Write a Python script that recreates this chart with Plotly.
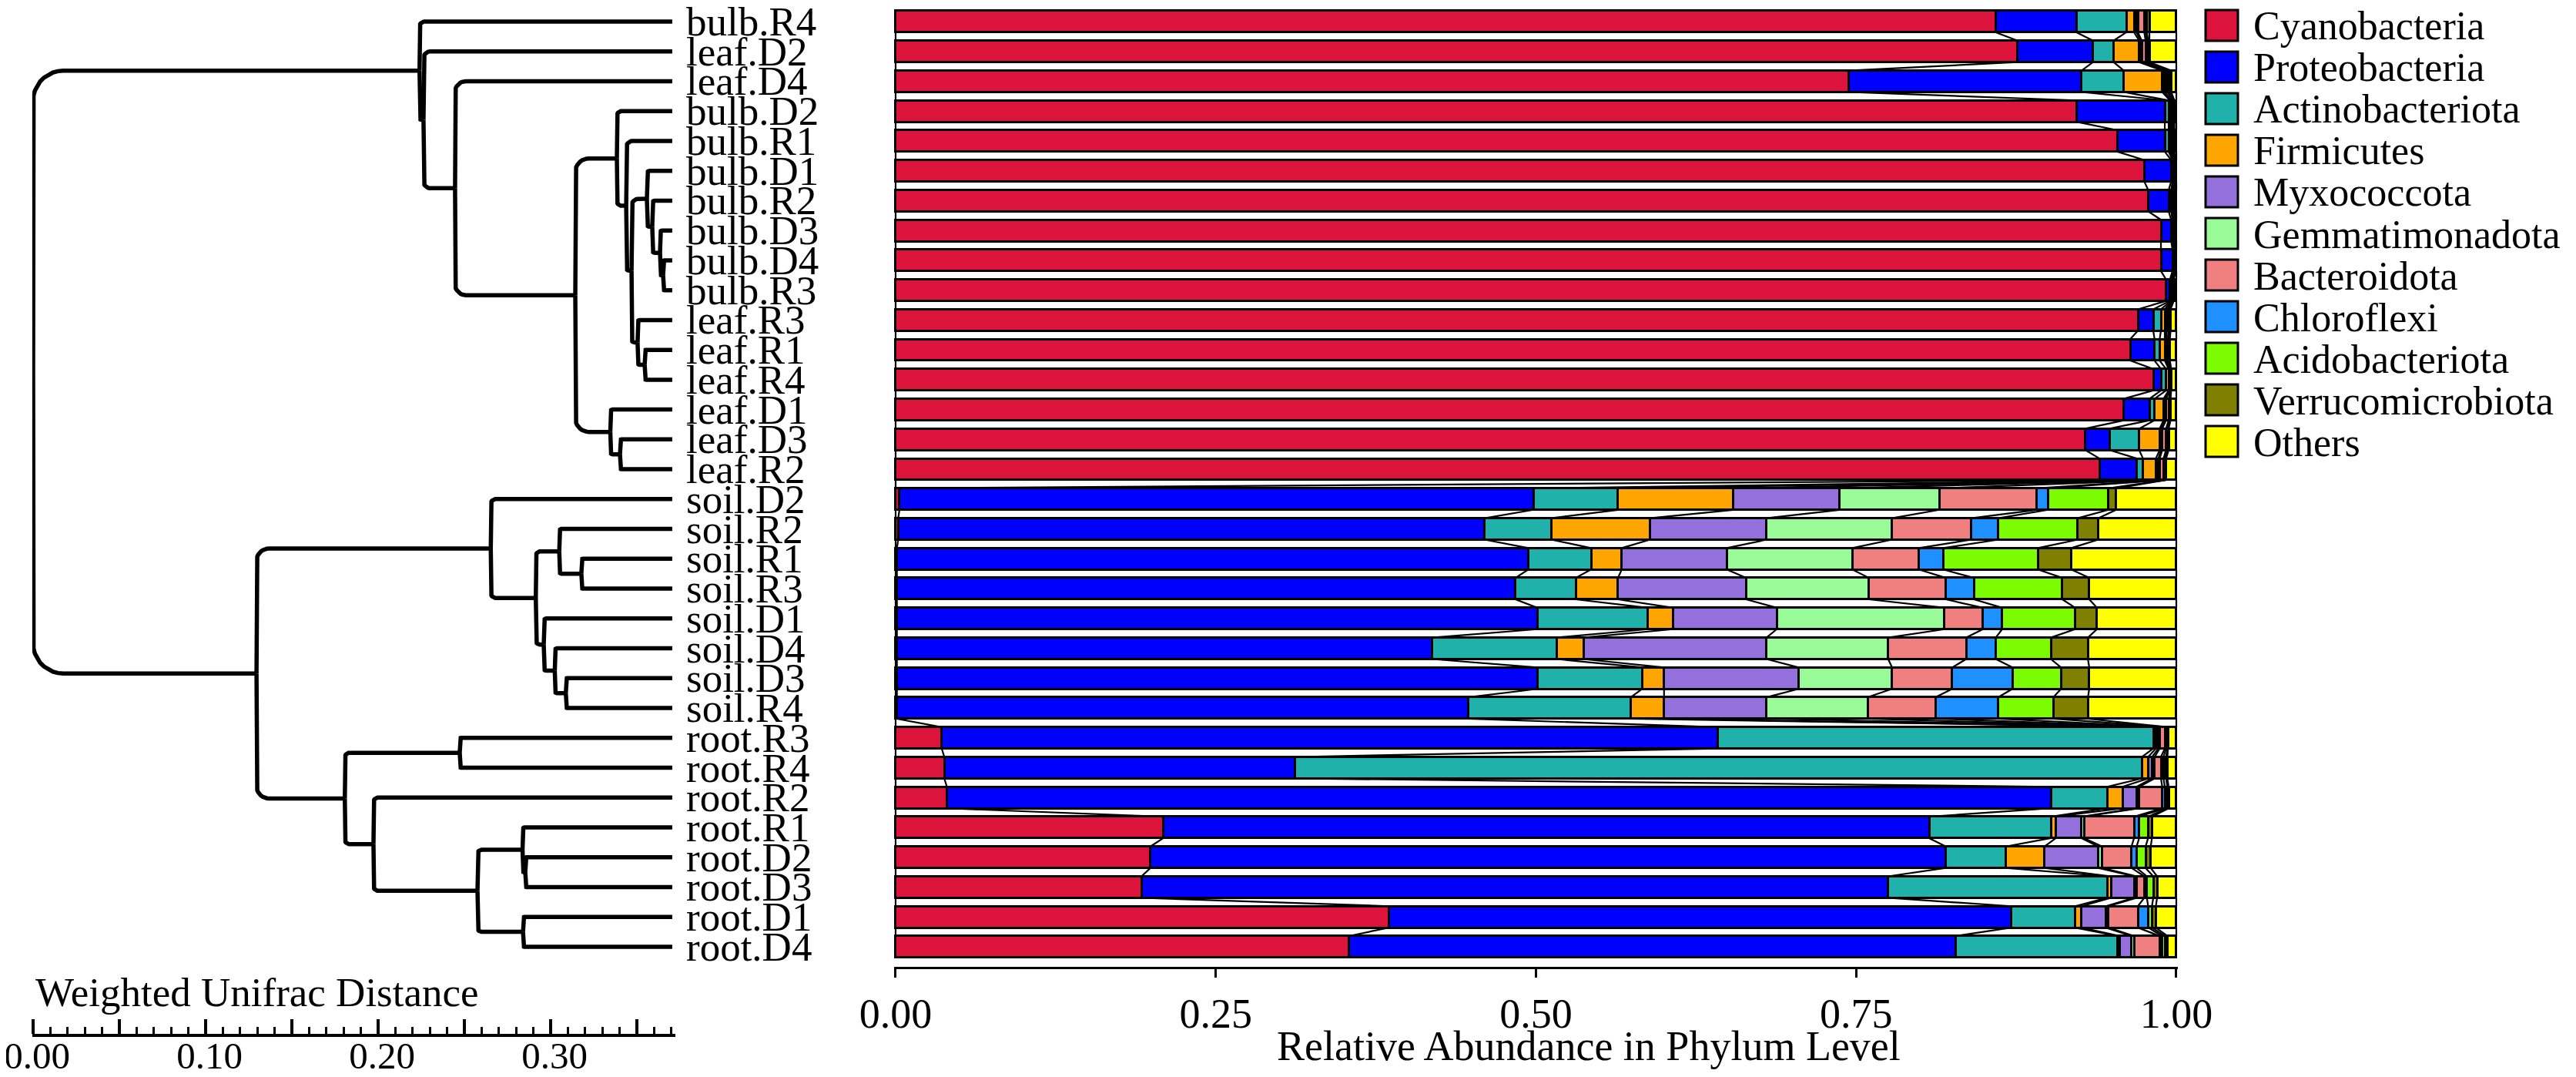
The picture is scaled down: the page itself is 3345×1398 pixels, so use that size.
import math
import numpy as np
import plotly.graph_objects as go

W, H = 3345, 1398
OFF = 8.0  # page margin of the browser body
FONT = "Liberation Serif, Times New Roman, serif"

# ---------------- data ----------------
samples = ["bulb.R4", "leaf.D2", "leaf.D4", "bulb.D2", "bulb.R1", "bulb.D1", "bulb.R2", "bulb.D3",
           "bulb.D4", "bulb.R3", "leaf.R3", "leaf.R1", "leaf.R4", "leaf.D1", "leaf.D3", "leaf.R2",
           "soil.D2", "soil.R2", "soil.R1", "soil.R3", "soil.D1", "soil.D4", "soil.D3", "soil.R4",
           "root.R3", "root.R4", "root.R2", "root.R1", "root.D2", "root.D3", "root.D1", "root.D4"]

phyla = ["Cyanobacteria", "Proteobacteria", "Actinobacteriota", "Firmicutes", "Myxococcota",
         "Gemmatimonadota", "Bacteroidota", "Chloroflexi", "Acidobacteriota", "Verrucomicrobiota", "Others"]
colors = ["#DC143C", "#0000FF", "#20B2AA", "#FFA500", "#9370DB", "#98FB98", "#F08080",
          "#1E90FF", "#7CFC00", "#808000", "#FFFF00"]

cyanobacteria = [0.859, 0.876, 0.744, 0.922, 0.954, 0.975, 0.978, 0.988, 0.988, 0.992, 0.970, 0.964, 0.982, 0.959, 0.929, 0.940,
                 0.003, 0.002, 0.001, 0.001, 0.001, 0.001, 0.001, 0.001,
                 0.036, 0.038, 0.040, 0.209, 0.199, 0.192, 0.385, 0.354]
proteobacteria = [0.063, 0.059, 0.182, 0.069, 0.037, 0.021, 0.016, 0.008, 0.009, 0.003, 0.012, 0.019, 0.006, 0.020, 0.019, 0.029,
                  0.495, 0.458, 0.493, 0.483, 0.500, 0.418, 0.500, 0.446,
                  0.606, 0.274, 0.862, 0.598, 0.621, 0.583, 0.486, 0.474]
actinobacteriota = [0.039, 0.016, 0.033, 0.003, 0.003, 0.001, 0.002, 0.001, 0.0008, 0.001, 0.006, 0.004, 0.004, 0.004, 0.023, 0.005,
                    0.066, 0.052, 0.049, 0.047, 0.086, 0.097, 0.082, 0.127,
                    0.340, 0.661, 0.044, 0.095, 0.047, 0.171, 0.050, 0.126]
firmicutes = [0.006, 0.020, 0.030, 0.001, 0.001, 0.0005, 0.001, 0.0005, 0.0004, 0.0005, 0.003, 0.004, 0.002, 0.007, 0.016, 0.010,
              0.090, 0.077, 0.024, 0.033, 0.020, 0.021, 0.017, 0.026,
              0.002, 0.005, 0.012, 0.004, 0.030, 0.003, 0.005, 0.002]
myxococcota = [0.002, 0.001, 0.001, 0.0005, 0.0005, 0.0003, 0.0003, 0.0003, 0.0002, 0.0002, 0.0005, 0.0005, 0.0003, 0.001, 0.001, 0.002,
               0.083, 0.091, 0.082, 0.100, 0.081, 0.143, 0.105, 0.080,
               0.002, 0.003, 0.011, 0.020, 0.042, 0.018, 0.019, 0.009]
gemmatimonadota = [0.001, 0.001, 0.001, 0.0005, 0.0005, 0.0002, 0.0002, 0.0002, 0.0002, 0.0002, 0.001, 0.001, 0.0005, 0.001, 0.001, 0.001,
                   0.078, 0.098, 0.098, 0.096, 0.131, 0.095, 0.073, 0.079,
                   0.001, 0.002, 0.002, 0.002, 0.003, 0.002, 0.002, 0.002]
bacteroidota = [0.005, 0.003, 0.002, 0.001, 0.001, 0.0005, 0.0005, 0.0005, 0.0004, 0.0005, 0.0015, 0.001, 0.0005, 0.002, 0.003, 0.003,
                0.076, 0.062, 0.052, 0.060, 0.030, 0.061, 0.047, 0.053,
                0.004, 0.005, 0.018, 0.039, 0.023, 0.006, 0.023, 0.020]
chloroflexi = [0.001, 0.001, 0.001, 0.0005, 0.0005, 0.0002, 0.0002, 0.0002, 0.0001, 0.0002, 0.0005, 0.0005, 0.0002, 0.0005, 0.001, 0.001,
               0.009, 0.021, 0.019, 0.022, 0.015, 0.023, 0.047, 0.049,
               0.001, 0.002, 0.002, 0.004, 0.004, 0.002, 0.008, 0.002]
acidobacteriota = [0.001, 0.001, 0.001, 0.0005, 0.0005, 0.0002, 0.0002, 0.0002, 0.0001, 0.0002, 0.0005, 0.0005, 0.0003, 0.0005, 0.0005, 0.0005,
                   0.047, 0.062, 0.074, 0.069, 0.057, 0.043, 0.038, 0.043,
                   0.001, 0.002, 0.002, 0.007, 0.007, 0.005, 0.003, 0.002]
verrucomicrobiota = [0.002, 0.001, 0.001, 0.0005, 0.0005, 0.0001, 0.0001, 0.0001, 0.0001, 0.0002, 0.0005, 0.0005, 0.0002, 0.0005, 0.0005, 0.0005,
                     0.006, 0.016, 0.026, 0.021, 0.017, 0.029, 0.022, 0.027,
                     0.0005, 0.001, 0.001, 0.003, 0.004, 0.003, 0.003, 0.002]
others = [0.021, 0.021, 0.004, 0.0015, 0.0015, 0.001, 0.0015, 0.001, 0.0007, 0.002, 0.0045, 0.005, 0.004, 0.0045, 0.006, 0.008,
          0.047, 0.061, 0.082, 0.068, 0.062, 0.069, 0.068, 0.069,
          0.0065, 0.007, 0.006, 0.019, 0.020, 0.015, 0.016, 0.007]

abundance = [cyanobacteria, proteobacteria, actinobacteriota, firmicutes, myxococcota, gemmatimonadota,
             bacteroidota, chloroflexi, acidobacteriota, verrucomicrobiota, others]

# dendrogram merges (bottom-up): node, left child, right child, node position on the distance scale
merge_node = ["N", "M", "L", "I", "O", "J", "K", "G", "E", "P", "F", "D", "C", "B", "A",
              "V", "U", "Y", "X", "W", "T", "S",
              "AA", "AF", "AD", "AE", "AC", "AB", "Z", "Q", "R"]
merge_left = ["bulb.D4", "bulb.D3", "bulb.R2", "bulb.D1", "leaf.R1", "leaf.R3", "I", "bulb.R1", "bulb.D2", "leaf.D3", "leaf.D1", "E", "leaf.D4", "leaf.D2", "bulb.R4",
              "soil.R1", "soil.R2", "soil.D3", "soil.D4", "soil.D1", "U", "soil.D2",
              "root.R3", "root.D2", "root.R1", "root.D1", "AD", "root.R2", "AA", "S", "A"]
merge_right = ["bulb.R3", "N", "M", "L", "leaf.R4", "O", "J", "K", "G", "leaf.R2", "P", "F", "D", "C", "B",
               "soil.R3", "V", "soil.R4", "Y", "X", "W", "T",
               "root.R4", "root.D3", "AF", "root.D4", "AE", "AC", "AB", "Z", "Q"]
merge_pos = [0.3652, 0.3634, 0.3589, 0.3558, 0.3545, 0.3504, 0.3469, 0.3438, 0.3384, 0.3402, 0.3346, 0.3143, 0.2446, 0.2263, 0.2240,
             0.3178, 0.3050, 0.3088, 0.3024, 0.2960, 0.2914, 0.2653,
             0.2473, 0.2853, 0.2837, 0.2840, 0.2576, 0.1973, 0.1807, 0.1295, 0.0]
tip_pos = 0.3705

scale_major = [0.00, 0.05, 0.10, 0.15, 0.20, 0.25, 0.30, 0.35]
scale_labels = ["0.00", "", "0.10", "", "0.20", "", "0.30", ""]
bar_ticks = [0.0, 0.25, 0.5, 0.75, 1.0]

# ---------------- geometry (target pixels, corrected for page margin) ----------------
def X(px):
    return px - OFF

def Yp(px):
    return px - OFF

ROW0_PX, ROW_PITCH = Yp(28.0), 38.74
Y_RANGE = [31.67, -0.5]
y_top_px = ROW0_PX + Y_RANGE[1] * ROW_PITCH
y_bot_px = ROW0_PX + Y_RANGE[0] * ROW_PITCH
y_domain = [1 - y_bot_px / H, 1 - y_top_px / H]

BAR_X0, BAR_X1 = X(1163.0), X(2826.0)
bar_scale = BAR_X1 - BAR_X0
bx_range = [-0.0015, 1.0015]
bx_domain = [(BAR_X0 + bx_range[0] * bar_scale) / W, (BAR_X0 + bx_range[1] * bar_scale) / W]

D_X0, D_SCALE = X(43.0), 2240.0
dx_range = [-0.0005, 0.3725]
dx_domain = [(D_X0 + dx_range[0] * D_SCALE) / W, (D_X0 + dx_range[1] * D_SCALE) / W]

BAR_W = 0.72
rows = list(range(len(samples)))

fig = go.Figure()

# stacked bars
for name, col, vals in zip(phyla, colors, abundance):
    fig.add_trace(go.Bar(y=rows, x=vals, orientation="h", name=name, width=BAR_W,
                         marker=dict(color=col, line=dict(color="black", width=2.6)),
                         showlegend=False, xaxis="x", yaxis="y"))

# connectors between neighbouring bars
arr = np.array(abundance)
cum = np.vstack([np.zeros(arr.shape[1]), np.cumsum(arr, axis=0)])
cx, cy = [], []
for k in range(cum.shape[0]):
    for i in range(len(samples) - 1):
        cx += [cum[k, i], cum[k, i + 1], None]
        cy += [i + BAR_W / 2, i + 1 - BAR_W / 2, None]
fig.add_trace(go.Scatter(x=cx, y=cy, mode="lines", line=dict(color="black", width=2.2),
                         hoverinfo="skip", showlegend=False, xaxis="x", yaxis="y"))

# dendrogram
pos = {s: tip_pos for s in samples}
yc = {s: i for i, s in enumerate(samples)}
for n, l, r, p in zip(merge_node, merge_left, merge_right, merge_pos):
    pos[n] = p
    yc[n] = (yc[l] + yc[r]) / 2

lx, ly = [], []
for n, l, r in zip(merge_node, merge_left, merge_right):
    nx, ny = pos[n], yc[n]
    for ch in (l, r):
        chx, chy = pos[ch], yc[ch]
        varm = abs(chy - ny) * ROW_PITCH
        harm = (chx - nx) * D_SCALE
        rad = max(0.0, min(0.1 * varm, 0.5 * harm, 40.0))
        d = 1 if chy > ny else -1
        lx.append(nx); ly.append(ny)
        for t in np.linspace(0, math.pi / 2, 10):
            ox = rad - rad * math.cos(t)
            oy = -d * rad + d * rad * math.sin(t)
            lx.append(nx + ox / D_SCALE)
            ly.append(chy + oy / ROW_PITCH)
        lx.append(chx); ly.append(chy)
        lx.append(None); ly.append(None)
fig.add_trace(go.Scatter(x=lx, y=ly, mode="lines", line=dict(color="black", width=5.5),
                         hoverinfo="skip", showlegend=False, xaxis="x2", yaxis="y2"))

annotations = []
for i, s in enumerate(samples):
    annotations.append(dict(x=tip_pos, y=i, xref="x2", yref="y2", text=s, showarrow=False,
                            xanchor="left", yanchor="middle", xshift=16, yshift=0,
                            font=dict(family=FONT, size=53, color="black")))

# legend (drawn manually to get large keys)
shapes = []
LEG_Y0, LEG_PITCH = Yp(33.0), 54.0
for j, (name, col) in enumerate(zip(phyla, colors)):
    yc_px = LEG_Y0 + j * LEG_PITCH
    shapes.append(dict(type="rect", xref="paper", yref="paper",
                       x0=X(2864) / W, x1=X(2906) / W, y0=1 - (yc_px + 20) / H, y1=1 - (yc_px - 20) / H,
                       fillcolor=col, line=dict(color="black", width=3)))
    annotations.append(dict(x=X(2924) / W, y=1 - (yc_px + 1) / H, xref="paper", yref="paper", text=name,
                            showarrow=False, xanchor="left", yanchor="middle",
                            font=dict(family=FONT, size=52, color="black")))

annotations.append(dict(x=X(2063) / W, y=1 - Yp(1358) / H, xref="paper", yref="paper",
                        text="Relative Abundance in Phylum Level", showarrow=False,
                        xanchor="center", yanchor="middle", font=dict(family=FONT, size=54, color="black")))
annotations.append(dict(x=X(44) / W, y=1 - Yp(1288) / H, xref="paper", yref="paper",
                        text="Weighted Unifrac Distance", showarrow=False,
                        xanchor="left", yanchor="middle", font=dict(family=FONT, size=53, color="black")))

fig.update_layout(
    width=W, height=H, margin=dict(l=0, r=0, t=0, b=0, pad=0, autoexpand=False),
    paper_bgcolor="white", plot_bgcolor="white",
    barmode="stack", bargap=0, showlegend=False,
    font=dict(family=FONT, size=53, color="black"),
    xaxis=dict(domain=bx_domain, range=bx_range, anchor="y", showgrid=False, zeroline=False,
               automargin=False,
               showline=True, linecolor="black", linewidth=3, ticks="outside", ticklen=11,
               tickwidth=3, tickcolor="black", tickvals=bar_ticks, tickformat=".2f",
               tickfont=dict(family=FONT, size=54, color="black")),
    yaxis=dict(domain=y_domain, range=Y_RANGE, visible=False, anchor="x", automargin=False),
    xaxis2=dict(domain=dx_domain, range=dx_range, anchor="free", position=1 - Yp(1344) / H,
                automargin=False, ticklabeloverflow="allow", ticklabelstandoff=-18, ticklabelshift=5,
                showgrid=False, zeroline=False, showline=True, linecolor="black", linewidth=4,
                ticks="inside", ticklen=19, tickwidth=4, tickcolor="black",
                tickmode="array", tickvals=scale_major, ticktext=scale_labels,
                minor=dict(dtick=0.01, tick0=0, ticks="inside", ticklen=9, tickwidth=3, tickcolor="black"),
                tickfont=dict(family=FONT, size=49, color="black")),
    yaxis2=dict(domain=y_domain, range=Y_RANGE, visible=False, anchor="x2", automargin=False),
    shapes=shapes, annotations=annotations,
)

fig.write_html("out.html")
